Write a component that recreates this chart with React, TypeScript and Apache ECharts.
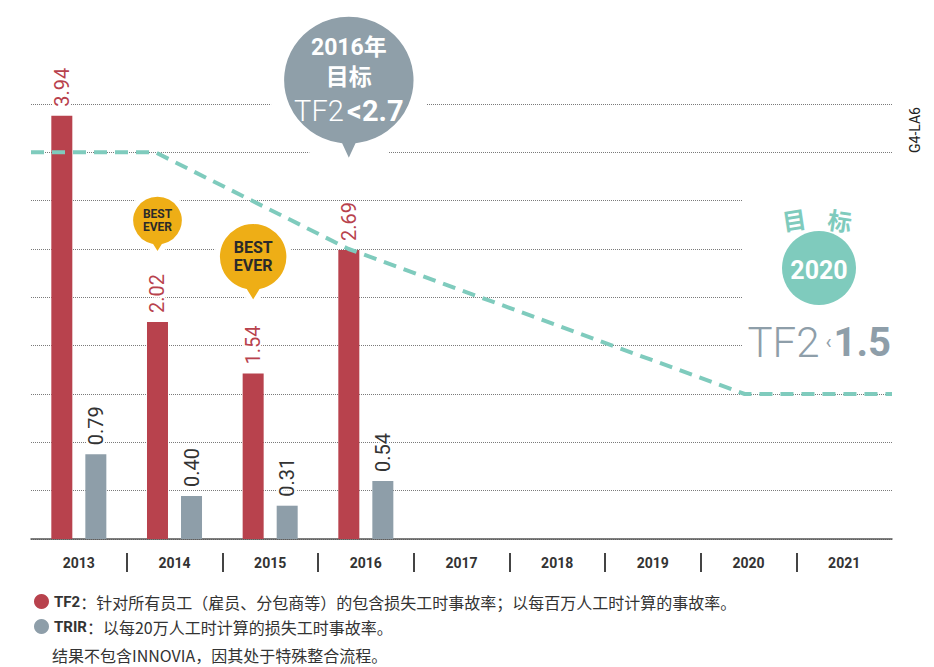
import React, { useEffect, useRef } from "react";
import * as echarts from "echarts";

// ---------- data ----------
const years = ["2013", "2014", "2015", "2016", "2017", "2018", "2019", "2020", "2021"];
const tf2Values = [3.94, 2.02, 1.54, 2.69, null, null, null, null, null];
const trirValues = [0.79, 0.4, 0.31, 0.54, null, null, null, null, null];
// target path (x in category units 0..9, y in TF2 units)
const targetX = [0, 1.3, 3.32, 7.46, 9];
const targetY = [3.6, 3.6, 2.7, 1.35, 1.35];
const separatorTicks = [1, 2, 3, 4, 5, 6, 7, 8];
const goal2016 = { year: "2016", anchor: 3.36, title: "2016年", sub: "目标", metric: "TF2", target: "<2.7" };
const bestEver = [
  { year: "2014", anchor: 2.63, big: false },
  { year: "2015", anchor: 2.18, big: true },
];
const legendNames = ["TF2", "TRIR"];
const legendDescriptions = [
  "针对所有员工（雇员、分包商等）的包含损失工时事故率；以每百万人工时计算的事故率。",
  "以每20万人工时计算的损失工时事故率。",
];
const footNote = "结果不包含INNOVIA，因其处于特殊整合流程。";
const goal2020 = { label: "目标", year: "2020", metric: "TF2", target: "1.5" };
const code = "G4-LA6";

// ---------- styles ----------
const RED = "#b8424d";
const GREY = "#8e9ea9";
const TEAL = "#7fcbbd";
const GOLD = "#eeae16";
const DARK = "#333333";
const CJK = '"Noto Sans CJK SC"';
const LAT = 'Roboto, "Noto Sans CJK SC"';

function balloon(r: number, halfBase: number, tipLen: number) {
  const c = r;
  const by = c + Math.sqrt(r * r - halfBase * halfBase);
  const d = `M${c - halfBase},${by} A${r},${r} 0 1,1 ${c + halfBase},${by} L${c},${c + tipLen} Z`;
  return { d: "path://" + d, w: 2 * r, h: c + tipLen };
}

export default function App() {
  const ref = useRef<HTMLDivElement>(null);
  useEffect(() => {
    if (!ref.current) return;
    const chart = echarts.init(ref.current, null, { renderer: "svg" });
    const gb = balloon(73, 12, 98);
    const smallB = balloon(27, 6, 36);
    const bigB = balloon(36, 8, 48);

    const markData: any[] = [
      {
        coord: [goal2016.year, goal2016.anchor],
        symbol: gb.d,
        symbolSize: [gb.w, gb.h],
        symbolOffset: [0, "-50%"],
        itemStyle: { color: "#8f9fa9", borderColor: "#fff", borderWidth: 18 },
        label: {
          show: true,
          position: "inside",
          offset: [0, -12],
          formatter: `{a|${goal2016.title}}\n{a|${goal2016.sub}}\n{t|${goal2016.metric}} {b|${goal2016.target}}`,
          rich: {
            a: { color: "#fff", fontSize: 23, fontWeight: "bold", fontFamily: LAT, lineHeight: 30, align: "center" },
            t: { color: "#fff", fontSize: 29, fontWeight: 300, fontFamily: "Roboto", lineHeight: 36 },
            b: { color: "#fff", fontSize: 29, fontWeight: "bold", fontFamily: "Roboto", lineHeight: 36 },
          },
        },
      },
      ...bestEver.map((b) => {
        const s = b.big ? bigB : smallB;
        return {
          coord: [b.year, b.anchor],
          symbol: s.d,
          symbolSize: [s.w, s.h],
          symbolOffset: [0, "-50%"],
          itemStyle: { color: GOLD, borderColor: "#fff", borderWidth: 6 },
          label: {
            show: true,
            position: "inside",
            offset: [0, b.big ? -6 : -4.5],
            formatter: "BEST\nEVER",
            color: "#2a2a2a",
            fontFamily: "Roboto",
            fontWeight: "bold",
            fontSize: b.big ? 16 : 12,
            lineHeight: b.big ? 18 : 13,
          },
        };
      }),
    ];

    const barLabel = (color: string) => ({
      show: true,
      position: "top",
      rotate: 90,
      align: "left",
      verticalAlign: "middle",
      distance: 9,
      color,
      fontSize: 20,
      fontFamily: "Roboto",
      textBorderColor: "#fff",
      textBorderWidth: 4,
      formatter: (p: any) => Number(p.value).toFixed(2),
    });

    const option: any = {
      animation: false,
      backgroundColor: "#fff",
      grid: { left: 31, right: 42, top: 104, bottom: 128, containLabel: false },
      xAxis: [
        {
          type: "category",
          data: years,
          boundaryGap: true,
          axisLine: { lineStyle: { color: "#555", width: 1.5 } },
          axisTick: { show: false },
          axisLabel: { margin: 17, fontSize: 14, fontWeight: "bold", color: DARK, fontFamily: "Roboto" },
        },
        {
          type: "value",
          min: 0,
          max: 9,
          position: "bottom",
          offset: 14,
          axisLine: { show: false },
          axisLabel: { show: false },
          splitLine: { show: false },
          axisTick: { show: true, customValues: separatorTicks, length: 19, lineStyle: { color: "#444", width: 2 } },
        },
      ],
      yAxis: {
        type: "value",
        min: 0,
        max: 4.05,
        interval: 0.45,
        axisLine: { show: false },
        axisTick: { show: false },
        axisLabel: { show: false },
        splitLine: { lineStyle: { color: "#7a7a7a", width: 1, type: [1, 1] } },
      },
      legend: {
        data: legendNames,
        orient: "vertical",
        left: 29,
        top: 586,
        itemWidth: 15,
        itemHeight: 15,
        itemGap: 4,
        icon: "circle",
        selectedMode: false,
        formatter: (name: string) => `{b|${name}}：${legendDescriptions[legendNames.indexOf(name)]}`,
        textStyle: {
          fontSize: 16,
          lineHeight: 21,
          color: DARK,
          fontFamily: CJK,
          rich: { b: { fontSize: 15, fontWeight: "bold", fontFamily: "Roboto", color: DARK } },
        },
      },
      series: [
        {
          name: legendNames[0],
          type: "bar",
          data: tf2Values,
          barWidth: 21,
          barGap: "62%",
          itemStyle: { color: RED },
          label: barLabel(RED),
          markPoint: { silent: true, animation: false, data: markData },
        },
        {
          name: legendNames[1],
          type: "bar",
          data: trirValues,
          barWidth: 21,
          itemStyle: { color: GREY },
          label: barLabel(DARK),
        },
        {
          name: "target",
          type: "line",
          xAxisIndex: 1,
          data: targetX.map((x, i) => [x, targetY[i]]),
          symbol: "none",
          silent: true,
          lineStyle: { color: TEAL, width: 4, type: [13, 8] },
        },
      ],
      graphic: [
        {
          type: "text",
          left: 52,
          top: 647,
          z: 10,
          style: { text: footNote, fontSize: 16, fill: DARK, fontFamily: CJK },
        },
        {
          type: "text",
          x: 915,
          y: 130,
          rotation: Math.PI / 2,
          z: 10,
          style: { text: code, fontSize: 14, fill: "#222", fontFamily: "Roboto", align: "center", verticalAlign: "middle" },
        },
        { type: "rect", shape: { x: 742, y: 190, width: 151, height: 164 }, style: { fill: "#fff" }, z: 5 },
        { type: "circle", shape: { cx: 819, cy: 268, r: 37 }, style: { fill: TEAL }, z: 6 },
        {
          type: "text",
          x: 794,
          y: 219,
          rotation: 0.15,
          z: 6,
          style: { text: goal2020.label[0], fontSize: 24, fontWeight: "bold", fill: TEAL, fontFamily: CJK, align: "center", verticalAlign: "middle" },
        },
        {
          type: "text",
          x: 840,
          y: 220,
          rotation: -0.15,
          z: 6,
          style: { text: goal2020.label[1], fontSize: 24, fontWeight: "bold", fill: TEAL, fontFamily: CJK, align: "center", verticalAlign: "middle" },
        },
        {
          type: "text",
          x: 819,
          y: 270,
          z: 7,
          style: { text: goal2020.year, fontSize: 25, fontWeight: "bold", fill: "#fff", fontFamily: "Roboto", align: "center", verticalAlign: "middle" },
        },
        {
          type: "text",
          x: 891,
          y: 342,
          z: 7,
          style: {
            text: `{t|${goal2020.metric}}{s|‹}{b|${goal2020.target}}`,
            align: "right",
            verticalAlign: "middle",
            rich: {
              t: { fontSize: 42, fontWeight: 300, fill: GREY, fontFamily: "Roboto" },
              s: { fontSize: 20, fill: GREY, fontFamily: "Roboto", padding: [0, 2, 0, 6] },
              b: { fontSize: 40, fontWeight: "bold", fill: GREY, fontFamily: "Roboto" },
            },
          },
        },
      ],
    };
    chart.setOption(option);
    return () => chart.dispose();
  }, []);
  return <div ref={ref} style={{ position: "absolute", left: 0, top: 0, width: 934, height: 667 }} />;
}
